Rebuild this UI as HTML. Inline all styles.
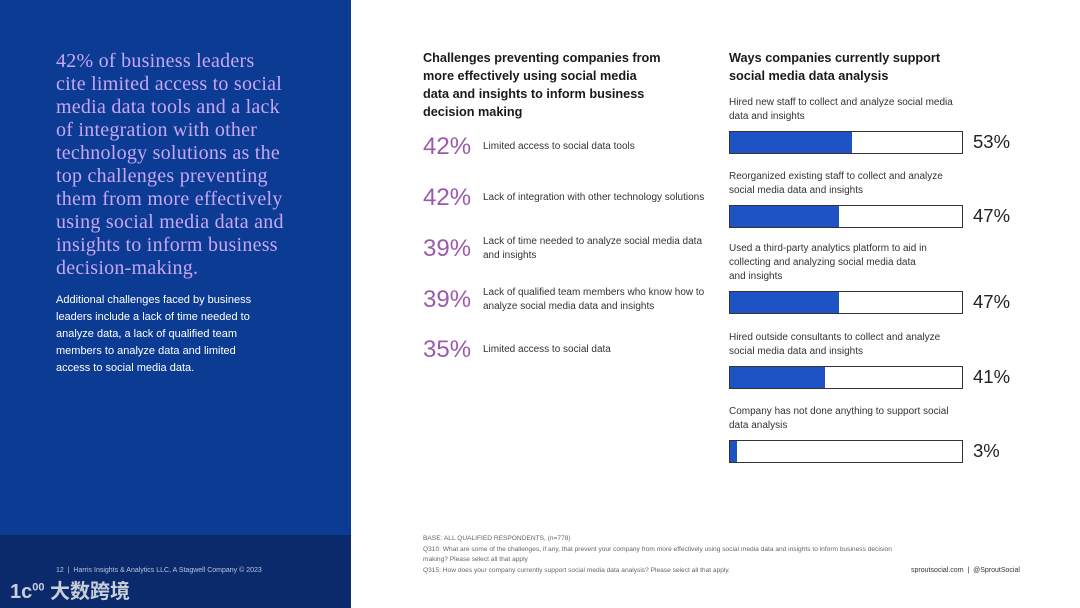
<!DOCTYPE html>
<html><head><meta charset="utf-8"><style>
*{margin:0;padding:0;box-sizing:border-box}
body{width:1080px;height:608px;position:relative;overflow:hidden;background:#fff;font-family:"Liberation Sans",sans-serif;color:#222}
.a{position:absolute;white-space:nowrap}
#left{left:0;top:0;width:351px;height:535px;background:#0c3b93}
#leftfoot{left:0;top:535px;width:351px;height:73px;background:#0a2a6c}
#headline{left:56px;top:50px;font-family:"Liberation Serif",serif;font-size:20px;line-height:23px;color:#c8a6f4;letter-spacing:0.25px}
#para{left:56px;top:292px;font-size:11px;line-height:17px;color:#fff}
.h{font-weight:bold;font-size:12.7px;line-height:18px;color:#1a1a1a}
.pct{font-size:24px;color:#9b5aad;left:423px}
.lab{font-size:10px;line-height:14px;color:#333;left:483px}
.rl{font-size:10px;line-height:14px;color:#333;left:729px}
.box{left:729px;width:234px;height:23px;border:1.5px solid #333;background:#fff}
.fill{position:absolute;left:0;top:0;bottom:0;background:#1d53c4}
.rp{left:973px;font-size:18.5px;color:#222}
.fn{font-size:6.6px;color:#666;left:423px;line-height:10.5px}
</style></head><body>
<div class="a" id="left"></div>
<div class="a" id="leftfoot"></div>
<div class="a" id="headline">42% of business leaders<br>cite limited access to social<br>media data tools and a lack<br>of integration with other<br>technology solutions as the<br>top challenges preventing<br>them from more effectively<br>using social media data and<br>insights to inform business<br>decision-making.</div>
<div class="a" id="para">Additional challenges faced by business<br>leaders include a lack of time needed to<br>analyze data, a lack of qualified team<br>members to analyze data and limited<br>access to social media data.</div>
<div class="a" style="left:56px;top:567px;font-size:7px;color:#b8c4e0">12 &nbsp;|&nbsp; Harris Insights &amp; Analytics LLC, A Stagwell Company © 2023</div>
<div class="a" style="left:10px;top:575px;font-size:20px;font-weight:bold;color:#c9ced8;font-family:'Liberation Sans','Noto Sans CJK SC',sans-serif">1c<sup style="font-size:11px">00</sup> 大数跨境</div>

<div class="a h" style="left:423px;top:49px">Challenges preventing companies from<br>more effectively using social media<br>data and insights to inform business<br>decision making</div>
<div id="chal"></div>

<div class="a h" style="left:729px;top:49px">Ways companies currently support<br>social media data analysis</div>
<div id="sup"></div>

<div class="a fn" style="top:534px">BASE: ALL QUALIFIED RESPONDENTS, (n=778)<br>Q310: What are some of the challenges, if any, that prevent your company from more effectively using social media data and insights to inform business decision<br>making? Please select all that apply<br>Q315: How does your company currently support social media data analysis? Please select all that apply.</div>
<div class="a" style="left:911px;top:567px;font-size:7px;color:#333">sproutsocial.com &nbsp;|&nbsp; @SproutSocial</div>
<script>
const chalValues=[42,42,39,39,35];
const chalLabels=["Limited access to social data tools","Lack of integration with other technology solutions","Lack of time needed to analyze social media data<br>and insights","Lack of qualified team members who know how to<br>analyze social media data and insights","Limited access to social data"];
const supValues=[53,47,47,41,3];
const supLabels=["Hired new staff to collect and analyze social media<br>data and insights","Reorganized existing staff to collect and analyze<br>social media data and insights","Used a third-party analytics platform to aid in<br>collecting and analyzing social media data<br>and insights","Hired outside consultants to collect and analyze<br>social media data and insights","Company has not done anything to support social<br>data analysis"];
const chalTops=[133,184,235,286,336];
const supBarTops=[131,205,291,366,440];
const c=document.getElementById('chal');
chalValues.forEach((v,i)=>{
 const p=document.createElement('div');p.className='a pct';p.style.top=chalTops[i]+'px';p.textContent=v+'%';
 
 
 c.appendChild(p);
 const l=document.createElement('div');l.className='a lab';
 const lines=chalLabels[i].includes('<br>')?2:1;
 l.style.top=(chalTops[i]+14-lines*7)+'px';l.innerHTML=chalLabels[i];
 
 
 c.appendChild(l);
});
const s=document.getElementById('sup');
const xScale=v=>v/100*231;
supValues.forEach((v,i)=>{
 const t=supBarTops[i];
 const n=supLabels[i].split('<br>').length;
 const l=document.createElement('div');l.className='a rl';l.style.top=(t-7-n*14)+'px';l.innerHTML=supLabels[i];
 
 
 s.appendChild(l);
 const b=document.createElement('div');b.className='a box';b.style.top=t+'px';
 
 
 const f=document.createElement('div');f.className='fill';f.style.width=xScale(v)+'px';
 
 
 b.appendChild(f);s.appendChild(b);
 const p=document.createElement('div');p.className='a rp';p.style.top=t+'px';p.textContent=v+'%';
 
 
 s.appendChild(p);
});
</script>
</body></html>
